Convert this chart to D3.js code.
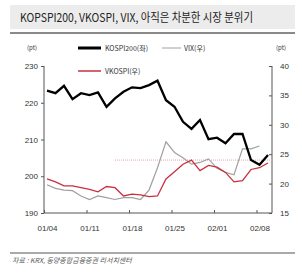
<!DOCTYPE html>
<html>
<head>
<meta charset="utf-8">
<script src="https://cdn.jsdelivr.net/npm/d3@7"></script>
<style>
  body { margin: 0; background: #fff; }
  svg { display: block; font-family: "Noto Sans CJK KR", "Liberation Sans", sans-serif; }
</style>
</head>
<body>
<div id="chart"></div>
<script>
// ===== KOSPI200 / VKOSPI / VIX =====

const dates = [
  '01/04', '01/05', '01/06', '01/07', '01/08',
  '01/11', '01/12', '01/13', '01/14', '01/15',
  '01/18', '01/19', '01/20', '01/21', '01/22',
  '01/25', '01/26', '01/27', '01/28', '01/29',
  '02/01', '02/02', '02/03', '02/04', '02/05',
  '02/08', '02/09'
];
const kospi200 = [
  223.3, 222.6, 224.6, 221.0, 222.6,
  222.1, 222.8, 218.9, 221.2, 223.0,
  224.2, 224.0, 224.8, 226.0, 220.7,
  218.9, 214.8, 212.9, 215.3, 210.1,
  210.5, 209.0, 211.5, 211.5, 204.4,
  203.1, 205.8
];
const vkospi = [
  20.8, 20.3, 19.6, 19.6, 19.3,
  19.0, 18.6, 19.5, 19.3, 17.9,
  18.2, 18.1, 17.8, 17.9, 20.8,
  22.0, 23.3, 24.0, 22.2, 23.1,
  22.8, 21.9, 20.3, 20.5, 22.4,
  22.7, 23.5
];
// VIX stops one day earlier (US close)
const vix = [
  19.8, 19.2, 18.9, 18.8, 17.9,
  17.3, 17.9, 17.6, 17.3, 17.6,
  17.6, 17.3, 18.9, 22.7, 27.1,
  25.3, 24.4, 23.3, 23.6, 24.2,
  22.6, 21.9, 21.5, 25.9, 25.9,
  26.4
];
const xTicks = ['01/04', '01/11', '01/18', '01/25', '02/01', '02/08'];
const leftTicks = [190, 200, 210, 220, 230];
const rightTicks = [15, 20, 25, 30, 35, 40];
const refValue = 24;       // right axis
const refStart = '01/14';

const W = 302, H = 275;
const svg = d3.select('#chart').append('svg')
  .attr('width', W)
  .attr('height', H);

// title box
svg.append('rect')
  .attr('x', 10).attr('y', 5)
  .attr('width', 285).attr('height', 24)
  .attr('fill', '#ececec');
svg.append('text')
  .attr('x', 20).attr('y', 22)
  .attr('font-size', 12)
  .attr('fill', '#222')
  .attr('textLength', 233)
  .attr('lengthAdjust', 'spacingAndGlyphs')
  .text('KOPSPI200, VKOSPI, VIX, 아직은 차분한 시장 분위기');
svg.append('line')
  .attr('x1', 10).attr('x2', 295)
  .attr('y1', 33).attr('y2', 33)
  .attr('stroke', '#8a8a8a')
  .attr('stroke-width', 2);

// scales
const x = d3.scalePoint().domain(dates).range([47, 268]);
const yL = d3.scaleLinear().domain([190, 230]).range([213, 66]);
const yR = d3.scaleLinear().domain([15, 40]).range([213, 66]);
const axisL = 44, axisR = 272;

// unit labels
svg.append('text').attr('x', 32).attr('y', 50)
  .attr('font-size', 6).attr('text-anchor', 'middle').attr('fill', '#333').text('(pt)');
svg.append('text').attr('x', 281).attr('y', 50)
  .attr('font-size', 6).attr('text-anchor', 'middle').attr('fill', '#333').text('(pt)');

// axes
const gL = svg.append('g')
  .attr('transform', `translate(${axisL},0)`)
  .call(d3.axisLeft(yL).tickValues(leftTicks).tickSize(3).tickPadding(3));
const gR = svg.append('g')
  .attr('transform', `translate(${axisR},0)`)
  .call(d3.axisRight(yR).tickValues(rightTicks).tickSizeInner(-3).tickSizeOuter(0).tickPadding(8));
const gB = svg.append('g')
  .attr('transform', `translate(0,${yL(190)})`)
  .call(d3.axisBottom(x).tickValues(xTicks).tickSizeInner(-3).tickSizeOuter(0).tickPadding(12));

[gL, gR, gB].forEach(g => {
  g.selectAll('path, line').attr('stroke', '#555');
  g.selectAll('text')
    .attr('fill', '#333')
    .style('font-family', '"Liberation Sans Narrow", "Liberation Sans", sans-serif')
    .attr('font-size', 8);
});
gL.select('.domain').attr('d', `M0,${yL(190)}V${yL(230)}`);
gR.select('.domain').attr('d', `M0,${yL(190)}V${yL(230)}`);
gB.select('.domain').attr('d', `M${axisL},0H${axisR}`);
gB.selectAll('.tick line').attr('transform', `translate(${-x.step() * 0.35},0)`);

// reference line
svg.append('line')
  .attr('x1', x(refStart)).attr('x2', axisR)
  .attr('y1', yR(refValue)).attr('y2', yR(refValue))
  .attr('stroke', '#e8a6ae')
  .attr('stroke-width', 1)
  .attr('stroke-dasharray', '1,1');

// lines
const lineL = d3.line().x((d, i) => x(dates[i])).y(d => yL(d));
const lineR = d3.line().x((d, i) => x(dates[i])).y(d => yR(d));

svg.append('path').datum(vix)
  .attr('d', lineR)
  .attr('fill', 'none')
  .attr('stroke', '#a0a0a0')
  .attr('stroke-width', 1.2);
svg.append('path').datum(vkospi)
  .attr('d', lineR)
  .attr('fill', 'none')
  .attr('stroke', '#c9303e')
  .attr('stroke-width', 1.3);
svg.append('path').datum(kospi200)
  .attr('d', lineL)
  .attr('fill', 'none')
  .attr('stroke', '#000')
  .attr('stroke-width', 2.3)
  .attr('stroke-linejoin', 'miter');

// legend
const legend = [
  { name: 'KOSPI200(좌)', color: '#000', width: 3, x: 78, y: 48 },
  { name: 'VIX(우)', color: '#a0a0a0', width: 1, x: 162, y: 48 },
  { name: 'VKOSPI(우)', color: '#c9303e', width: 1.5, x: 78, y: 71 }
];
const lg = svg.append('g').selectAll('g').data(legend).join('g')
  .attr('transform', d => `translate(${d.x},${d.y})`);
lg.append('line')
  .attr('x1', 0).attr('x2', d => d.name === 'VIX(우)' ? 19 : 23)
  .attr('stroke', d => d.color)
  .attr('stroke-width', d => d.width);
lg.append('text')
  .attr('x', d => d.name === 'VIX(우)' ? 22 : 27)
  .attr('y', 2.5)
  .attr('font-size', 7)
  .attr('fill', '#333')
  .text(d => d.name);

// source
svg.append('line')
  .attr('x1', 10).attr('x2', 295)
  .attr('y1', 253).attr('y2', 253)
  .attr('stroke', '#555')
  .attr('stroke-width', 1);
svg.append('text')
  .attr('x', 12).attr('y', 263)
  .attr('font-size', 7)
  .attr('font-style', 'italic')
  .attr('fill', '#555')
  .text('자료 : KRX, 동양종합금융증권 리서치센터');
</script>
</body>
</html>
